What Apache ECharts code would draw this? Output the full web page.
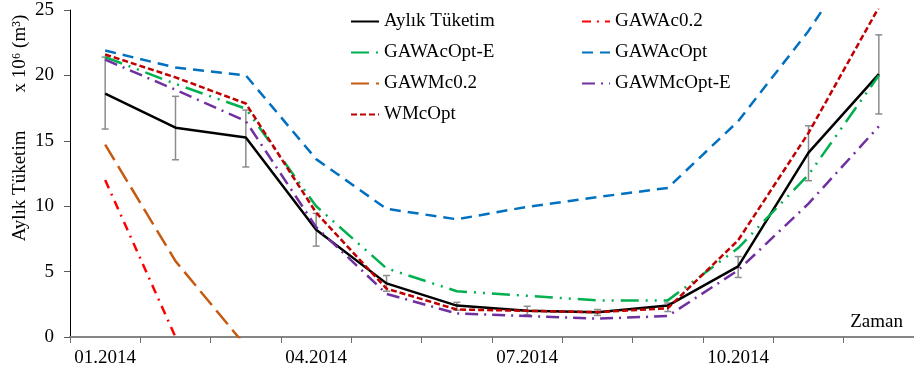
<!DOCTYPE html>
<html>
<head>
<meta charset="utf-8">
<script src="https://cdn.jsdelivr.net/npm/echarts@6/dist/echarts.min.js"></script>
<style>
html,body{margin:0;padding:0;background:#fff;}
#chart{width:914px;height:376px;}
</style>
</head>
<body>
<div id="chart"></div>
<script>
// Categories (months)
const categories = ['01.2014','02.2014','03.2014','04.2014','05.2014','06.2014','07.2014','08.2014','09.2014','10.2014','11.2014','12.2014'];
// Y tick values
const yTicks = [0, 5, 10, 15, 20, 25];

// Series values (x 10^6 m3)
const aylikTuketim = [18.6, 16.0, 15.25, 8.2, 4.1, 2.4, 2.0, 1.9, 2.4, 5.4, 14.1, 20.1];
const errLow       = [15.9, 13.55, 13.0, 6.95, 3.5, 2.05, 1.7, 1.65, 1.95, 4.55, 11.95, 17.05];
const errHigh      = [21.4, 18.4, 17.35, 9.45, 4.7, 2.65, 2.35, 2.1, 2.6, 6.15, 16.15, 23.1];
const gawac02      = [12.0, 0, null, null, null, null, null, null, null, null, null, null];
const gawacOptE    = [21.4, 19.35, 17.45, 10.0, 5.25, 3.5, 3.15, 2.8, 2.8, 6.8, 12.4, 20.0];
const gawacOpt     = [21.9, 20.6, 20.0, 13.6, 9.8, 9.0, 9.95, 10.7, 11.4, 16.5, 23.4, 31.5];
const gawmc02      = [14.7, 5.8, -0.7, null, null, null, null, null, null, null, null, null];
const gawmcOptE    = [21.2, 18.9, 16.5, 8.4, 3.3, 1.8, 1.6, 1.4, 1.6, 5.1, 10.2, 16.1];
const wmcOpt       = [21.6, 19.85, 17.85, 9.5, 3.7, 2.1, 2.0, 1.9, 2.2, 7.4, 15.6, 25.2];

const FONT = 'Liberation Serif, Times New Roman, serif';

function lineSeries(name, data, color, dash, width) {
  return {
    name: name, type: 'line', data: data, symbol: 'none', clip: true,
    connectNulls: false,
    lineStyle: { color: color, width: width || 2.5, type: dash || 'solid', cap: 'butt' },
    itemStyle: { color: color },
    emphasis: { disabled: true },
    z: 3
  };
}

const legendCommon = {
  orient: 'vertical', top: 7, itemWidth: 28, itemHeight: 12, itemGap: 12,
  textStyle: { fontFamily: FONT, fontSize: 19, color: '#000' },
  itemStyle: { opacity: 0 },
  selectedMode: false
};

const chart = echarts.init(document.getElementById('chart'), null, { renderer: 'canvas' });
const option = {
  animation: false,
  backgroundColor: '#ffffff',
  grid: { left: 70, right: -6, top: 10, bottom: 39, containLabel: false },
  legend: [
    Object.assign({}, legendCommon, { left: 345, data: ['Aylık Tüketim', 'GAWAcOpt-E', 'GAWMc0.2', 'WMcOpt'] }),
    Object.assign({}, legendCommon, { left: 576, data: ['GAWAc0.2', 'GAWAcOpt', 'GAWMcOpt-E'] })
  ],
  xAxis: {
    type: 'category',
    data: categories,
    boundaryGap: true,
    name: 'Zaman',
    nameLocation: 'end',
    nameGap: -11,
    nameTextStyle: { fontFamily: FONT, fontSize: 19, color: '#000', align: 'right', verticalAlign: 'bottom', padding: [0, 0, 5, 0] },
    axisLine: { show: true, onZero: false, lineStyle: { color: '#868686', width: 2 } },
    axisTick: { show: true, interval: 0, length: 6, inside: false, lineStyle: { color: '#6e6e6e', width: 1 } },
    axisLabel: { interval: 2, margin: 12, fontFamily: FONT, fontSize: 19, color: '#000' },
    splitLine: { show: false }
  },
  yAxis: {
    type: 'value',
    min: yTicks[0],
    max: yTicks[yTicks.length - 1],
    interval: yTicks[1] - yTicks[0],
    axisLine: { show: true, lineStyle: { color: '#000', width: 1 } },
    axisTick: { show: true, length: 6, lineStyle: { color: '#595959', width: 1 } },
    axisLabel: { margin: 16, fontFamily: FONT, fontSize: 19, color: '#000' },
    splitLine: { show: false }
  },
  graphic: [
    {
      type: 'text', x: 20, y: 128, rotation: Math.PI / 2,
      style: {
        text: 'Aylık Tüketim        x 10⁶ (m³)',
        font: '19px ' + FONT,
        fill: '#000', align: 'center', verticalAlign: 'middle'
      },
      silent: true
    }
  ],
  series: [
    {
      name: 'errorbars', type: 'custom', z: 2,
      data: categories.map(function (c, i) { return [i, errLow[i], errHigh[i]]; }),
      encode: { x: 0, y: [1, 2] },
      renderItem: function (params, api) {
        const lo = api.coord([api.value(0), api.value(1)]);
        const hi = api.coord([api.value(0), api.value(2)]);
        const hw = 3.5;
        const st = { stroke: '#8c8c8c', lineWidth: 1.5 };
        return {
          type: 'group',
          children: [
            { type: 'line', shape: { x1: lo[0], y1: lo[1], x2: hi[0], y2: hi[1] }, style: st },
            { type: 'line', shape: { x1: lo[0] - hw, y1: lo[1], x2: lo[0] + hw, y2: lo[1] }, style: st },
            { type: 'line', shape: { x1: hi[0] - hw, y1: hi[1], x2: hi[0] + hw, y2: hi[1] }, style: st }
          ]
        };
      },
      silent: true
    },
    lineSeries('Aylık Tüketim', aylikTuketim, '#000000', 'solid', 2.5),
    lineSeries('GAWAc0.2', gawac02, '#FF0000', [9, 6, 2, 6], 2.5),
    lineSeries('GAWAcOpt-E', gawacOptE, '#00B050', [18, 7, 2, 7, 2, 7], 2.5),
    lineSeries('GAWAcOpt', gawacOpt, '#0070C0', [11, 7], 2.5),
    lineSeries('GAWMc0.2', gawmc02, '#C55A11', [18, 7], 2.5),
    lineSeries('GAWMcOpt-E', gawmcOptE, '#7030A0', [13, 6, 2, 6], 2.5),
    lineSeries('WMcOpt', wmcOpt, '#C00000', [6, 3], 2.5)
  ]
};
chart.setOption(option);
</script>
</body>
</html>
